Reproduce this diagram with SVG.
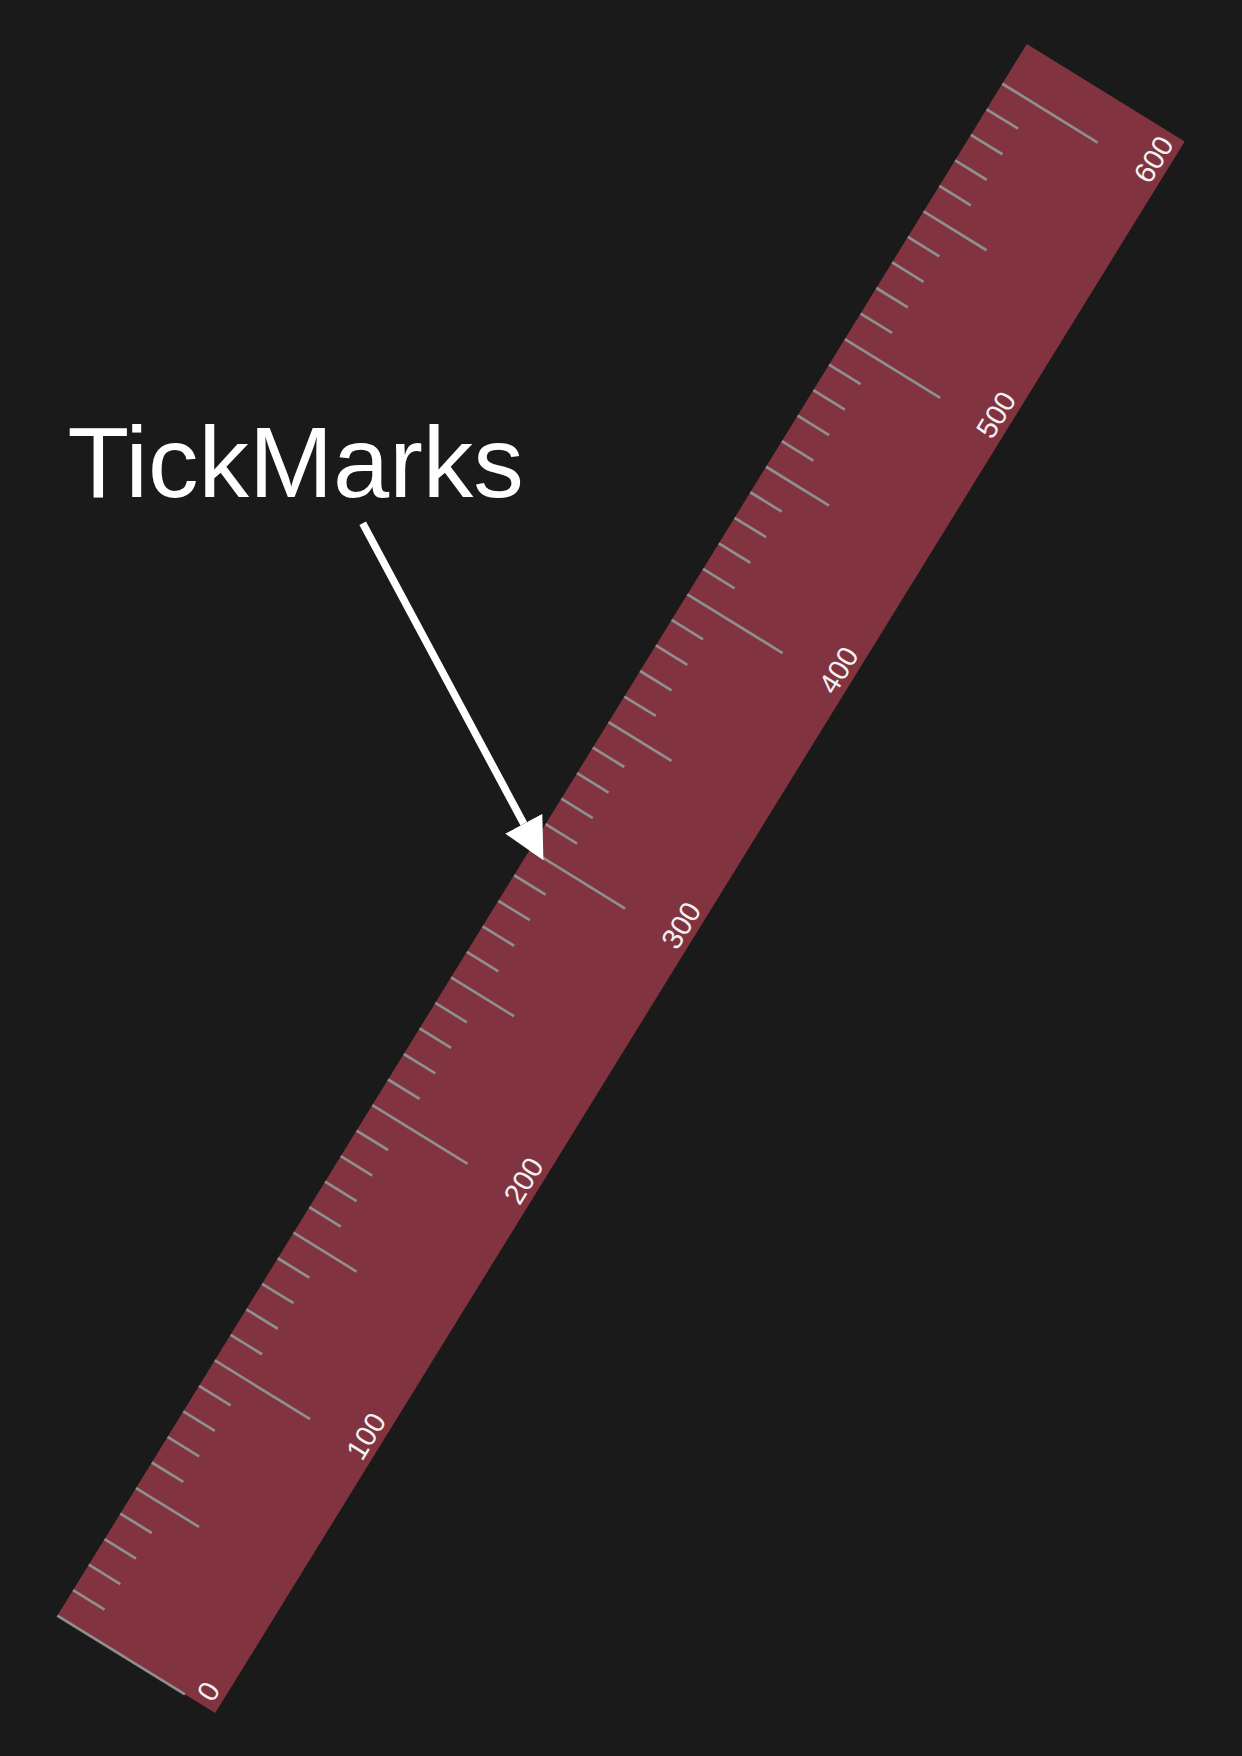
<svg xmlns="http://www.w3.org/2000/svg" width="1242" height="1756" viewBox="0 0 1242 1756">
<style>
.bg{fill:#1a1a1a}
.body{fill:#823340}
.tk{stroke:#8f8f8f;stroke-width:2.7;stroke-linecap:butt}
.lbl{font-family:"Liberation Sans",Arial,sans-serif;font-size:29px;fill:#f2f2f2;text-anchor:middle}
.title{font-family:"Liberation Sans",Arial,sans-serif;font-size:101px;fill:#ffffff}
.arrow{stroke:#ffffff;stroke-width:7.5;fill:none}
</style>
<defs>
<marker id="ah" markerUnits="userSpaceOnUse" markerWidth="42" markerHeight="42" viewBox="0 0 41 41.5" refX="0" refY="20.75" orient="auto">
<path d="M0,0 L41,20.75 L0,41.5 z" fill="#ffffff"/>
</marker>
</defs>
<rect class="bg" x="0" y="0" width="1242" height="1756"/>
<g id="ruler" transform="translate(57.3,1615.7) rotate(-58.33)">
<rect class="body" x="0" y="0" width="1846.6" height="185.5"/>
<g id="ticks">
<line class="tk" x1="0" y1="0" x2="0" y2="150"/>
<line class="tk" x1="30" y1="0" x2="30" y2="37"/>
<line class="tk" x1="60" y1="0" x2="60" y2="37"/>
<line class="tk" x1="90" y1="0" x2="90" y2="37"/>
<line class="tk" x1="120" y1="0" x2="120" y2="37"/>
<line class="tk" x1="150" y1="0" x2="150" y2="74"/>
<line class="tk" x1="180" y1="0" x2="180" y2="37"/>
<line class="tk" x1="210" y1="0" x2="210" y2="37"/>
<line class="tk" x1="240" y1="0" x2="240" y2="37"/>
<line class="tk" x1="270" y1="0" x2="270" y2="37"/>
<line class="tk" x1="300" y1="0" x2="300" y2="112"/>
<line class="tk" x1="330" y1="0" x2="330" y2="37"/>
<line class="tk" x1="360" y1="0" x2="360" y2="37"/>
<line class="tk" x1="390" y1="0" x2="390" y2="37"/>
<line class="tk" x1="420" y1="0" x2="420" y2="37"/>
<line class="tk" x1="450" y1="0" x2="450" y2="74"/>
<line class="tk" x1="480" y1="0" x2="480" y2="37"/>
<line class="tk" x1="510" y1="0" x2="510" y2="37"/>
<line class="tk" x1="540" y1="0" x2="540" y2="37"/>
<line class="tk" x1="570" y1="0" x2="570" y2="37"/>
<line class="tk" x1="600" y1="0" x2="600" y2="112"/>
<line class="tk" x1="630" y1="0" x2="630" y2="37"/>
<line class="tk" x1="660" y1="0" x2="660" y2="37"/>
<line class="tk" x1="690" y1="0" x2="690" y2="37"/>
<line class="tk" x1="720" y1="0" x2="720" y2="37"/>
<line class="tk" x1="750" y1="0" x2="750" y2="74"/>
<line class="tk" x1="780" y1="0" x2="780" y2="37"/>
<line class="tk" x1="810" y1="0" x2="810" y2="37"/>
<line class="tk" x1="840" y1="0" x2="840" y2="37"/>
<line class="tk" x1="870" y1="0" x2="870" y2="37"/>
<line class="tk" x1="900" y1="0" x2="900" y2="112"/>
<line class="tk" x1="930" y1="0" x2="930" y2="37"/>
<line class="tk" x1="960" y1="0" x2="960" y2="37"/>
<line class="tk" x1="990" y1="0" x2="990" y2="37"/>
<line class="tk" x1="1020" y1="0" x2="1020" y2="37"/>
<line class="tk" x1="1050" y1="0" x2="1050" y2="74"/>
<line class="tk" x1="1080" y1="0" x2="1080" y2="37"/>
<line class="tk" x1="1110" y1="0" x2="1110" y2="37"/>
<line class="tk" x1="1140" y1="0" x2="1140" y2="37"/>
<line class="tk" x1="1170" y1="0" x2="1170" y2="37"/>
<line class="tk" x1="1200" y1="0" x2="1200" y2="112"/>
<line class="tk" x1="1230" y1="0" x2="1230" y2="37"/>
<line class="tk" x1="1260" y1="0" x2="1260" y2="37"/>
<line class="tk" x1="1290" y1="0" x2="1290" y2="37"/>
<line class="tk" x1="1320" y1="0" x2="1320" y2="37"/>
<line class="tk" x1="1350" y1="0" x2="1350" y2="74"/>
<line class="tk" x1="1380" y1="0" x2="1380" y2="37"/>
<line class="tk" x1="1410" y1="0" x2="1410" y2="37"/>
<line class="tk" x1="1440" y1="0" x2="1440" y2="37"/>
<line class="tk" x1="1470" y1="0" x2="1470" y2="37"/>
<line class="tk" x1="1500" y1="0" x2="1500" y2="112"/>
<line class="tk" x1="1530" y1="0" x2="1530" y2="37"/>
<line class="tk" x1="1560" y1="0" x2="1560" y2="37"/>
<line class="tk" x1="1590" y1="0" x2="1590" y2="37"/>
<line class="tk" x1="1620" y1="0" x2="1620" y2="37"/>
<line class="tk" x1="1650" y1="0" x2="1650" y2="74"/>
<line class="tk" x1="1680" y1="0" x2="1680" y2="37"/>
<line class="tk" x1="1710" y1="0" x2="1710" y2="37"/>
<line class="tk" x1="1740" y1="0" x2="1740" y2="37"/>
<line class="tk" x1="1770" y1="0" x2="1770" y2="37"/>
<line class="tk" x1="1800" y1="0" x2="1800" y2="112"/>
</g>
<g id="labels">
<text class="lbl" x="15" y="178.5">0</text>
<text class="lbl" x="315" y="178.5">100</text>
<text class="lbl" x="615" y="178.5">200</text>
<text class="lbl" x="915" y="178.5">300</text>
<text class="lbl" x="1215" y="178.5">400</text>
<text class="lbl" x="1515" y="178.5">500</text>
<text class="lbl" x="1815" y="178.5">600</text>
</g>
</g>
<g id="callout">
<text class="title" x="67.5" y="497">TickMarks</text>
</g>
<g id="connectors">
<line class="arrow" x1="362.7" y1="523.3" x2="523.8" y2="823.8" marker-end="url(#ah)"/>
</g>
</svg>
